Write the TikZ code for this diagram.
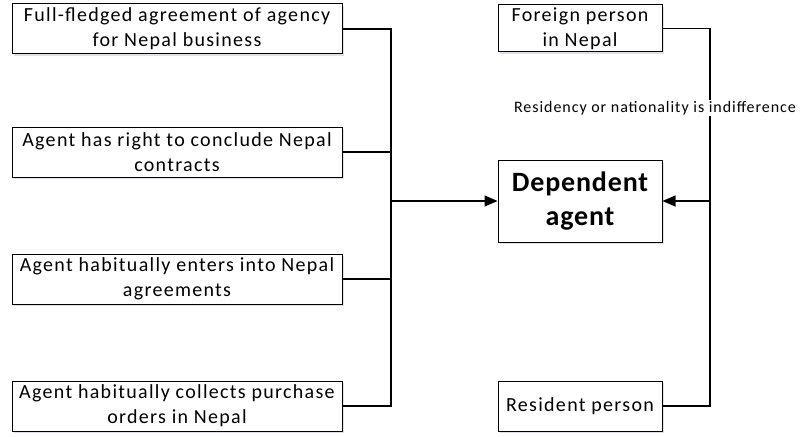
\documentclass[tikz,border=0pt]{standalone}
\usepackage{fontspec}
\setmainfont{Carlito}
\usepackage{tikz}
\usetikzlibrary{arrows.meta,shadows}

\tikzset{
  cond/.style={draw=black,line width=1pt,fill=white,align=center,
    inner sep=0pt,font=\fontsize{20}{25}\selectfont\addfontfeature{LetterSpace=6.5},
    drop shadow={opacity=0.18,fill=blue!40!gray,shadow xshift=2pt,shadow yshift=-2pt}},
  link/.style={black,line width=1.1pt}
}

\begin{document}
\begin{tikzpicture}[x=1pt,y=-1pt]
\useasboundingbox (0,0) rectangle (802,436);
\begin{scope}[>={Triangle[length=13pt,width=11pt]}]

    % conditions on the left
    \node[cond,minimum width=330pt,minimum height=50pt] (full) at (177,29)
        {Full-fledged agreement of agency\\for Nepal business};
    \node[cond,minimum width=330pt,minimum height=50pt] (right) at (177,152)
        {Agent has right to conclude Nepal\\contracts};
    \node[cond,minimum width=330pt,minimum height=50pt] (enter) at (177,279)
        {Agent habitually enters into Nepal\\agreements};
    \node[cond,minimum width=330pt,minimum height=50pt] (orders) at (177,406)
        {Agent habitually collects purchase\\orders in Nepal};

    % persons on the right
    \node[cond,minimum width=164pt,minimum height=47pt] (foreign) at (580,28.5)
        {Foreign person\\in Nepal};
    \node[cond,minimum width=164pt,minimum height=82pt,
          font=\fontsize{28}{34}\selectfont\bfseries\addfontfeature{LetterSpace=3}] (agent) at (580,201)
        {Dependent\\agent};
    \node[cond,minimum width=164pt,minimum height=50pt] (resident) at (580,406)
        {Resident person};

    % left bus
    \coordinate (lbus) at (391,201);
    \draw[link] (full.east) -| (lbus);
    \draw[link] (right.east) -| (lbus);
    \draw[link] (enter.east) -| (lbus);
    \draw[link] (orders.east) -| (lbus);
    \draw[link,->] (lbus) -- (agent.west);

    % right bus
    \coordinate (rbus) at (710,201);
    \draw[link] (foreign.east) -| (rbus);
    \draw[link] (resident.east) -| (rbus);
    \draw[link,->] (rbus) -- (agent.east);
    \node[fill=white,inner sep=1pt,
          font=\fontsize{16}{19}\selectfont\addfontfeature{LetterSpace=6}] (note) at (655,108)
        {Residency or nationality is indifference};

\end{scope}
\end{tikzpicture}
\end{document}
